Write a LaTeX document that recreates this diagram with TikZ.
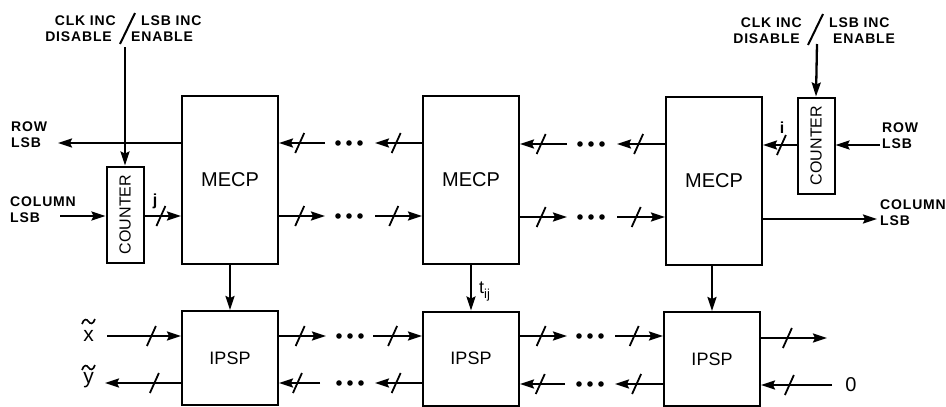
\documentclass[tikz,border=0pt]{standalone}
\usepackage{fontspec}
\setmainfont{Liberation Sans}
\newfontfamily\lblfont[LetterSpace=6]{Liberation Sans Bold}
\usetikzlibrary{arrows.meta}
\begin{document}
\begin{tikzpicture}[x=1pt,y=-1pt,
  box/.style={draw, line width=2pt, inner sep=0pt},
  mecp/.style={box, minimum width=96pt, minimum height=168pt, font=\fontsize{20}{24}\selectfont},
  ipsp/.style={box, minimum width=96pt, minimum height=94pt, font=\fontsize{18}{22}\selectfont},
  counterbox/.style={box, minimum width=37pt, minimum height=96pt},
  countertext/.style={rotate=90, font=\fontsize{16}{18}\selectfont, inner sep=0pt},
  lbl/.style={inner sep=0pt, font=\lblfont\fontsize{14}{16}\selectfont},
  iolbl/.style={inner sep=0pt, font=\fontsize{21}{22}\selectfont},
  arr/.style={line width=2.3pt, -{Stealth[length=14pt,width=9pt,inset=2pt]}},
  busslash/.pic={\draw[line width=1.8pt, arrows=-] (-4.5,10) -- (4.5,-10);},
  tildemark/.style={line width=1.6pt},
  dotsep/.style={fill=black}
]
\fill[white] (0,0) rectangle (946,407);
\useasboundingbox (0,0) rectangle (946,407);

% ---- MECP and IPSP boxes
\node[mecp] (m1) at (230,180) {MECP};
\node[mecp] (m2) at (471,180) {MECP};
\node[mecp] (m3) at (714,180.5) {MECP};
\node[ipsp] (p1) at (230,358) {IPSP};
\node[ipsp] (p2) at (471,358.5) {IPSP};
\node[ipsp] (p3) at (712,359) {IPSP};

% ---- counters
\node[counterbox] (c1) at (125,214.5) {};
\node[countertext] (c1t) at (c1.center) {COUNTER};
\node[counterbox] (c2) at (816,145.5) {};
\node[countertext] (c2t) at (c2.center) {COUNTER};

% ---- left control labels
\node[lbl, anchor=east] (clk1) at (116,21) {CLK INC};
\node[lbl, anchor=west] (lsbi1) at (141,21) {LSB INC};
\node[lbl, anchor=east] (dis1) at (112,37) {DISABLE};
\node[lbl, anchor=west] (en1) at (131,37) {ENABLE};
\draw[line width=2pt] (135,13) -- (120,44);
\coordinate (clkin1) at (125,47);
\draw[arr] (clkin1) -- (c1.north);

% ---- right control labels
\node[lbl, anchor=east] (clk2) at (802,23) {CLK INC};
\node[lbl, anchor=west] (lsbi2) at (829,23) {LSB INC};
\node[lbl, anchor=east] (dis2) at (800,39) {DISABLE};
\node[lbl, anchor=west] (en2) at (833,39) {ENABLE};
\draw[line width=2pt] (823,14) -- (808,45);
\coordinate (clkin2) at (817,44);
\draw[arr] (clkin2) -- (c2.north);

% ---- left ROW / COLUMN LSB
\node[lbl, align=left, anchor=west] (rowlsb1) at (11,135) {ROW\\LSB};
\coordinate (rowout1) at (58,143);
\draw[arr] (m1.west |- rowout1) -- (rowout1);
\node[lbl, align=left, anchor=west] (collsb1) at (10,210) {COLUMN\\LSB};
\coordinate (colin1) at (60,216);
\draw[arr] (colin1) -- (c1.west |- colin1);
\draw[arr] (c1.east |- colin1) -- pic[pos=0.45]{busslash} (m1.west |- colin1);
\node[lbl, font=\lblfont\fontsize{16}{18}\selectfont] (jlab) at (155,201) {j};

% ---- right ROW / COLUMN LSB
\node[lbl, align=left, anchor=west] (rowlsb2) at (882,136) {ROW\\LSB};
\coordinate (rowin2) at (880,145);
\draw[arr] (rowin2) -- (c2.east |- rowin2);
\draw[arr] (c2.west |- rowin2) -- pic[pos=0.45]{busslash} (m3.east |- rowin2);
\node[lbl, font=\lblfont\fontsize{16}{18}\selectfont] (ilab) at (782,128) {i};
\node[lbl, align=left, anchor=west] (collsb2) at (880,213) {COLUMN\\LSB};
\coordinate (colout2) at (877,219);
\draw[arr] (m3.east |- colout2) -- (colout2);

% ---- MECP chain m1 -- m2
\coordinate (u1a) at (325,143);
\coordinate (u1b) at (375,143);
\draw[arr] (u1a) -- pic[pos=0.55]{busslash} (m1.east |- u1a);
\draw[arr] (m2.west |- u1b) -- pic[pos=0.55]{busslash} (u1b);
\foreach \xx in {338,349,360} \fill[dotsep] (\xx,143) circle (2.8pt);
\coordinate (l1a) at (325,216);
\coordinate (l1b) at (375,216);
\draw[arr] (m1.east |- l1a) -- pic[pos=0.45]{busslash} (l1a);
\draw[arr] (l1b) -- pic[pos=0.4]{busslash} (m2.west |- l1b);
\foreach \xx in {338,349,360} \fill[dotsep] (\xx,216) circle (2.8pt);

% ---- MECP chain m2 -- m3
\coordinate (u2a) at (567,144);
\coordinate (u2b) at (617,144);
\draw[arr] (u2a) -- pic[pos=0.55]{busslash} (m2.east |- u2a);
\draw[arr] (m3.west |- u2b) -- pic[pos=0.55]{busslash} (u2b);
\foreach \xx in {580,591,602} \fill[dotsep] (\xx,144) circle (2.8pt);
\coordinate (l2a) at (567,217);
\coordinate (l2b) at (617,217);
\draw[arr] (m2.east |- l2a) -- pic[pos=0.45]{busslash} (l2a);
\draw[arr] (l2b) -- pic[pos=0.4]{busslash} (m3.west |- l2b);
\foreach \xx in {580,591,602} \fill[dotsep] (\xx,217) circle (2.8pt);

% ---- MECP -> IPSP
\draw[arr] (m1.south) -- (p1.north);
\draw[arr] (m2.south) -- (p2.north);
\node[anchor=south west, inner sep=0pt, font=\fontsize{18}{20}\selectfont] (tij) at (479,301) {t\raisebox{-5pt}{\fontsize{13}{13}\selectfont ij}};
\draw[arr] (m3.south -| p3.north) -- (p3.north);

% ---- IPSP chain p1 -- p2
\coordinate (a1a) at (326,336);
\coordinate (a1b) at (373,336);
\draw[arr] (p1.east |- a1a) -- pic[pos=0.45]{busslash} (a1a);
\draw[arr] (a1b) -- pic[pos=0.4]{busslash} (p2.west |- a1b);
\foreach \xx in {339,350,361} \fill[dotsep] (\xx,336) circle (2.8pt);
\coordinate (b1a) at (320,383);
\coordinate (b1b) at (375,383);
\draw[arr] (b1a) -- pic[pos=0.55]{busslash} (p1.east |- b1a);
\draw[arr] (p2.west |- b1b) -- pic[pos=0.55]{busslash} (b1b);
\foreach \xx in {339,350,361} \fill[dotsep] (\xx,383) circle (2.8pt);

% ---- IPSP chain p2 -- p3
\coordinate (a2a) at (567,336);
\coordinate (a2b) at (615,336);
\draw[arr] (p2.east |- a2a) -- pic[pos=0.45]{busslash} (a2a);
\draw[arr] (a2b) -- pic[pos=0.4]{busslash} (p3.west |- a2b);
\foreach \xx in {579,590,601} \fill[dotsep] (\xx,336) circle (2.8pt);
\coordinate (b2a) at (565,384);
\coordinate (b2b) at (615,384);
\draw[arr] (b2a) -- pic[pos=0.55]{busslash} (p2.east |- b2a);
\draw[arr] (p3.west |- b2b) -- pic[pos=0.55]{busslash} (b2b);
\foreach \xx in {579,590,601} \fill[dotsep] (\xx,384) circle (2.8pt);

% ---- left IPSP I/O
\coordinate (xin) at (107,336);
\draw[arr] (xin) -- pic[pos=0.6]{busslash} (p1.west |- xin);
\node[iolbl] (xlab) at (88.5,336) {x};
\draw[tildemark] (82,324) .. controls (84,318) and (87,319) .. (88.5,321.5) .. controls (90,324) and (93,325) .. (95,319);
\coordinate (yout) at (105,383);
\draw[arr] (p1.west |- yout) -- pic[pos=0.35]{busslash} (yout);
\node[iolbl] (ylab) at (88.5,380) {y};
\draw[tildemark] (82,370) .. controls (84,364) and (87,365) .. (88.5,367.5) .. controls (90,370) and (93,371) .. (95,365);

% ---- right IPSP I/O
\coordinate (xout) at (827,338);
\draw[arr] (p3.east |- xout) -- pic[pos=0.4]{busslash} (xout);
\coordinate (zin) at (832,385);
\draw[arr] (zin) -- pic[pos=0.6]{busslash} (p3.east |- zin);
\node[inner sep=0pt, font=\fontsize{20}{20}\selectfont] (zero) at (851,385) {0};
\end{tikzpicture}
\end{document}
